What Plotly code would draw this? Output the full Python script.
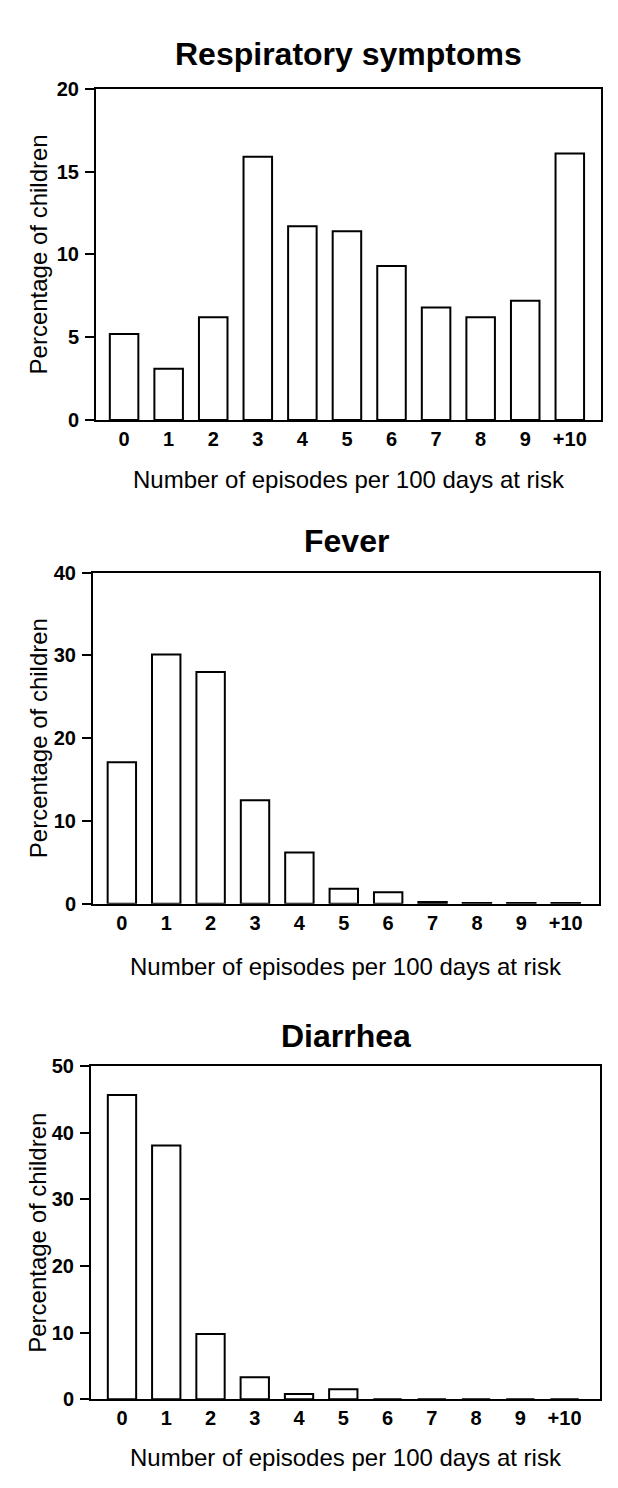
import plotly.graph_objects as go

categories = ["0", "1", "2", "3", "4", "5", "6", "7", "8", "9", "+10"]
resp_values = [5.2, 3.1, 6.2, 15.9, 11.7, 11.4, 9.3, 6.8, 6.2, 7.2, 16.1]
fever_values = [17.1, 30.1, 28.0, 12.5, 6.2, 1.8, 1.4, 0.2, 0.1, 0.1, 0.1]
diarrhea_values = [45.7, 38.1, 9.8, 3.3, 0.8, 1.5, 0, 0, 0, 0, 0]
panel_titles = ["Respiratory symptoms", "Fever", "Diarrhea"]
y_max = [20, 40, 50]
y_dtick = [5, 10, 10]
x_title = "Number of episodes per 100 days at risk"
y_title = "Percentage of children"

W, H = 618, 1488
FONT = "Liberation Sans, Arial, sans-serif"

# pixel boxes of each plot area: (left, right, top, bottom)
boxes = [(88, 593, 71, 407), (85, 591, 562, 898), (83, 592, 1063, 1401)]
x_ranges = [[-0.63, 10.7], [-0.65, 10.75], [-0.7, 10.8]]
title_y = [36, 530, 1032]
xtitle_y = [467, 962, 1460]

series = [resp_values, fever_values, diarrhea_values]

fig = go.Figure()
annotations = []
for i, vals in enumerate(series):
    n = "" if i == 0 else str(i + 1)
    l, r, t, b = boxes[i]
    fig.add_trace(go.Bar(
        x=categories, y=vals,
        xaxis="x" + n, yaxis="y" + n,
        marker=dict(color="white", line=dict(color="black", width=2)),
        width=0.64, showlegend=False,
    ))
    fig.update_layout(**{
        "xaxis" + n: dict(
            domain=[l / W, r / W], anchor="y" + n,
            type="category", range=x_ranges[i],
            showline=True, linecolor="black", linewidth=2, mirror=True,
            ticks="", showgrid=False, zeroline=False,
            tickfont=dict(family=FONT, size=20, color="black", weight="bold"),
            ticklabelstandoff=0,
        ),
        "yaxis" + n: dict(
            domain=[1 - b / H, 1 - t / H], anchor="x" + n,
            range=[0, y_max[i]], dtick=y_dtick[i],
            showline=True, linecolor="black", linewidth=2, mirror=True,
            ticks="outside", ticklen=9, tickwidth=2, tickcolor="black",
            showgrid=False, zeroline=False,
            tickfont=dict(family=FONT, size=20, color="black", weight="bold"),
            ticklabelstandoff=2,
        ),
    })
    cx = (l + r) / 2 / W
    annotations.append(dict(
        text="<b>" + panel_titles[i] + "</b>", x=cx, y=1 - title_y[i] / H,
        xref="paper", yref="paper", xanchor="center", yanchor="middle",
        showarrow=False, font=dict(family=FONT, size=32, color="black"),
    ))
    annotations.append(dict(
        text=x_title, x=cx, y=1 - xtitle_y[i] / H,
        xref="paper", yref="paper", xanchor="center", yanchor="middle",
        showarrow=False, font=dict(family=FONT, size=24, color="black"),
    ))
    annotations.append(dict(
        text=y_title, x=30 / W, y=1 - (t + b) / 2 / H,
        xref="paper", yref="paper", xanchor="center", yanchor="middle",
        textangle=-90, showarrow=False,
        font=dict(family=FONT, size=24, color="black"),
    ))

fig.update_layout(
    width=W, height=H,
    margin=dict(l=0, r=0, t=0, b=0),
    paper_bgcolor="white", plot_bgcolor="white",
    annotations=annotations,
    bargap=0.36,
)

fig.write_html("out.html")
